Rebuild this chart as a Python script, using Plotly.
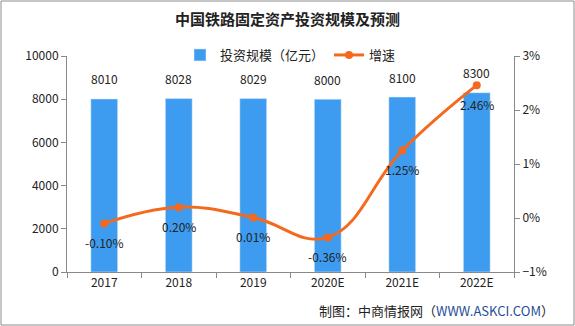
import plotly.graph_objects as go

years = ["2017", "2018", "2019", "2020E", "2021E", "2022E"]
invest = [8010, 8028, 8029, 8000, 8100, 8300]
growth = [-0.10, 0.20, 0.01, -0.36, 1.25, 2.46]
growth_labels = ["-0.10%", "0.20%", "0.01%", "-0.36%", "1.25%", "2.46%"]

FONT = "Noto Sans CJK SC"
L, R, T, B = 67, 514, 56, 272
W, H = 575, 326
pw, ph = R - L, B - T

fig = go.Figure()
fig.add_trace(go.Bar(
    x=years, y=invest, name="投资规模（亿元）",
    marker_color="#3D9CF0", width=0.36,
))
fig.add_trace(go.Scatter(
    x=years, y=growth, name="增速", yaxis="y2",
    mode="lines+markers",
    line=dict(color="#F5691E", width=3, shape="spline", smoothing=1.2),
    marker=dict(size=8, color="#F5691E"),
    cliponaxis=False,
))

for i, v in enumerate(invest):
    fig.add_annotation(x=i, y=v, xref="x", yref="y", text=str(v), showarrow=False,
                       yshift=20, font=dict(size=12, color="#222", family=FONT))
for i, (g, t) in enumerate(zip(growth, growth_labels)):
    fig.add_annotation(x=i, y=g, xref="x", yref="y2", text=t, showarrow=False,
                       yshift=-19, font=dict(size=12, color="#222", family=FONT))

fig.update_layout(
    width=W, height=H,
    margin=dict(l=L, r=W - R, t=T, b=H - B),
    paper_bgcolor="white", plot_bgcolor="white",
    font=dict(family=FONT, size=12, color="#222"),
    title=dict(text="<b>中国铁路固定资产投资规模及预测</b>", x=0.5, xanchor="center",
               y=1 - 20 / H, yanchor="middle", font=dict(size=15, color="#222")),
    legend=dict(orientation="h", x=0.5, xanchor="center", y=(B - 55) / ph, yanchor="middle",
                font=dict(size=13), bgcolor="rgba(0,0,0,0)", itemwidth=30),
    bargap=0.64,
    xaxis=dict(type="category", showline=True, linecolor="#898989", ticks="outside",
               tickson="boundaries", ticklen=5, tickcolor="#898989", showgrid=False,
               tickfont=dict(size=12)),
    yaxis=dict(range=[0, 10000], dtick=2000, tickformat="d", showline=True, linecolor="#898989",
               ticks="outside", ticklen=5, tickcolor="#898989", showgrid=False,
               zeroline=False, tickfont=dict(size=12)),
    yaxis2=dict(range=[-1, 3], dtick=1, overlaying="y", side="right", showline=True,
                linecolor="#898989", ticks="outside", ticklen=5, tickcolor="#898989",
                showgrid=False, zeroline=False, ticksuffix="%", tickfont=dict(size=12)),
    showlegend=True,
)

fig.add_annotation(text="制图：中商情报网（<span style='color:#1F4E9A'>WWW.ASKCI.COM</span>）",
                   xref="paper", yref="paper", x=(556 - L) / pw, xanchor="right",
                   y=(B - 310) / ph, yanchor="middle", showarrow=False,
                   font=dict(size=13, color="#222"))

fig.add_shape(type="rect", xref="paper", yref="paper",
              x0=(1 - L) / pw, x1=(574 - L) / pw, y0=(B - 325) / ph, y1=(B - 1) / ph,
              line=dict(color="#8C8C8C", width=1))

fig.write_html("out.html")
